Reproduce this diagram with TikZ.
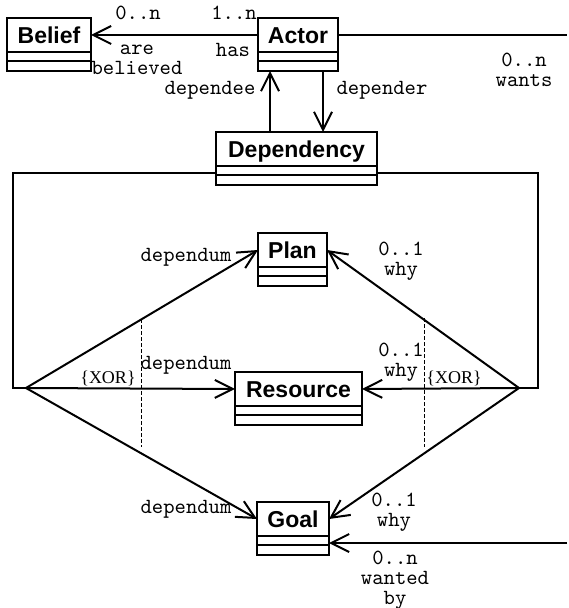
\documentclass[tikz,border=0pt]{standalone}
\usepackage{fontspec}
\setmainfont{Liberation Sans}
\newfontfamily\umlserif{Liberation Serif}
\usetikzlibrary{arrows.meta}

\begin{document}
\begin{tikzpicture}[
    x=0.5pt, y=-0.5pt,
    line width=1pt,
    every node/.style={
        inner sep=0pt,
        outer sep=0pt,
    },
    umlclass/.style={
        draw, rectangle,
        anchor=north west,
        minimum width=#1,
        minimum height=26.5pt,
        font=\fontsize{11.5}{13}\selectfont\bfseries,
        text height=12.6pt,
        text depth=13.9pt,
        path picture={
            \draw ([yshift=-17pt]path picture bounding box.north west)
                -- ([yshift=-17pt]path picture bounding box.north east);
            \draw ([yshift=-21.5pt]path picture bounding box.north west)
                -- ([yshift=-21.5pt]path picture bounding box.north east);
        },
    },
    rolelabel/.style={
        font=\fontsize{10.8}{10}\selectfont\ttfamily,
        align=center,
    },
    xorlabel/.style={
        font=\fontsize{9}{9}\selectfont\umlserif,
    },
    assoc/.style={
        -{Straight Barb[length=9pt,width=9pt]},
    },
    constraint/.style={
        line width=0.5pt,
        dash pattern=on 2pt off 1pt,
    },
]
    \useasboundingbox (0,0) rectangle (568,608);

    % classes
    \node[umlclass=42pt] (belief) at (7,18) {Belief};
    \node[umlclass=40pt] (actor) at (258,18) {Actor};
    \node[umlclass=80.5pt] (dependency) at (216,132) {Dependency};
    \node[umlclass=34.5pt] (plan) at (258,233) {Plan};
    \node[umlclass=63.5pt] (resource) at (235,372) {Resource};
    \node[umlclass=36pt] (goal) at (257,502) {Goal};

    % helper points
    \coordinate (xorl) at (26,388);
    \coordinate (xorr) at (519,388);
    \coordinate (wants-end) at (567,35);
    \coordinate (wanted-end) at (567,543);
    \coordinate (dependee-x) at (270,0);
    \coordinate (depender-x) at (323,0);
    \coordinate (xorl-top) at (141,319);
    \coordinate (xorl-bot) at (141,447);
    \coordinate (xorr-top) at (424,318);
    \coordinate (xorr-bot) at (424,447);

    % associations
    \draw[assoc] ([yshift=4.75pt]actor.west) -- ([yshift=4.75pt]belief.east);
    \draw ([yshift=4.75pt]actor.east) -- (wants-end);
    \draw[assoc] (wanted-end) -- ([yshift=-7.25pt]goal.east);
    \draw[assoc] (dependency.north -| dependee-x) -- (actor.south -| dependee-x);
    \draw[assoc] (actor.south -| depender-x) -- (dependency.north -| depender-x);
    \draw ([yshift=-7.25pt]dependency.west) -| ([xshift=-6.5pt]xorl) -- (xorl);
    \draw ([yshift=-7.25pt]dependency.east) -| ([xshift=9.5pt]xorr) -- (xorr);
    \foreach \cls in {plan,resource,goal}{
        \draw[assoc] (xorl) -- ([yshift=4.75pt]\cls.west);
        \draw[assoc] (xorr) -- ([yshift=4.75pt]\cls.east);
    }
    \draw[constraint] (xorl-top) -- (xorl-bot);
    \draw[constraint] (xorr-top) -- (xorr-bot);

    % role names and multiplicities
    \node[rolelabel] (belief-mult) at (138,13) {0..n};
    \node[rolelabel] (actor-mult) at (234,13) {1..n};
    \node[rolelabel] (belief-role) at (137,59.5) {are\\believed};
    \node[rolelabel] (actor-role) at (233,50) {has};
    \node[rolelabel] (dependee-role) at (210,90) {dependee};
    \node[rolelabel] (depender-role) at (382,90) {depender};
    \node[rolelabel] (wants-role) at (524,69.5) {0..n\\wants};
    \node[rolelabel] (plan-dependum) at (186,257) {dependum};
    \node[rolelabel] (plan-why) at (401,261) {0..1\\why};
    \node[rolelabel] (resource-dependum) at (186,365) {dependum};
    \node[rolelabel] (resource-why) at (401,362.5) {0..1\\why};
    \node[rolelabel] (goal-dependum) at (186,509) {dependum};
    \node[rolelabel] (goal-why) at (394,512.5) {0..1\\why};
    \node[rolelabel] (goal-wanted) at (395,580) {0..n\\wanted\\by};
    \node[xorlabel] (xor-left) at (108,378) {\{XOR\}};
    \node[xorlabel] (xor-right) at (454,378) {\{XOR\}};
\end{tikzpicture}
\end{document}
